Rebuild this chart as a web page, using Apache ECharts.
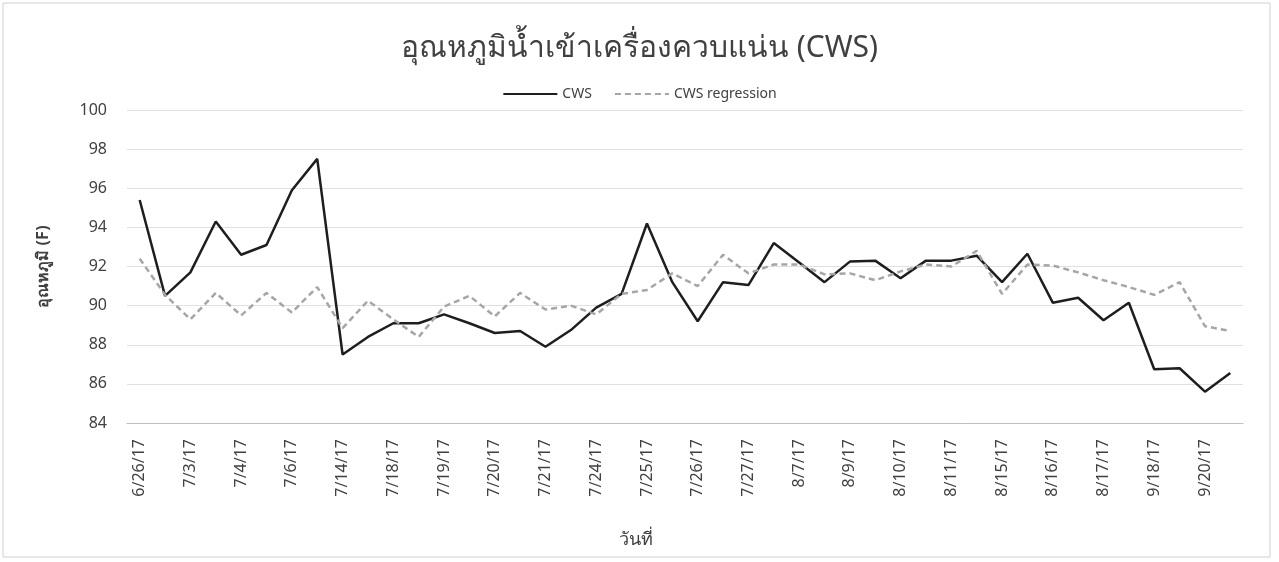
<!DOCTYPE html>
<html>
<head>
<meta charset="utf-8">
<title>CWS</title>
<script src="https://cdn.jsdelivr.net/npm/echarts@6/dist/echarts.min.js"></script>
<style>
  html, body { margin: 0; padding: 0; background: #fff; }
  #chart { width: 1279px; height: 562px; }
</style>
</head>
<body>
<div id="chart"></div>
<script>
// date labels shown under every other point
var dateLabels = ['6/26/17', '7/3/17', '7/4/17', '7/6/17', '7/14/17', '7/18/17', '7/19/17', '7/20/17',
  '7/21/17', '7/24/17', '7/25/17', '7/26/17', '7/27/17', '8/7/17', '8/9/17', '8/10/17', '8/11/17',
  '8/15/17', '8/16/17', '8/17/17', '9/18/17', '9/20/17'];

var cws = [95.4, 90.5, 91.7, 94.3, 92.6, 93.1, 95.9, 97.5, 87.5, 88.4, 89.1, 89.1,
  89.55, 89.1, 88.6, 88.7, 87.9, 88.75, 89.9, 90.6, 94.2, 91.2, 89.2, 91.2,
  91.05, 93.2, 92.2, 91.2, 92.25, 92.3, 91.4, 92.3, 92.3, 92.55, 91.2, 92.65,
  90.15, 90.4, 89.25, 90.15, 86.75, 86.8, 85.6, 86.55];

var cwsRegression = [92.4, 90.55, 89.3, 90.65, 89.5, 90.65, 89.65, 90.95, 88.85, 90.25, 89.3, 88.4,
  89.95, 90.5, 89.45, 90.65, 89.8, 90.0, 89.55, 90.6, 90.8, 91.65, 91.0, 92.6,
  91.65, 92.1, 92.1, 91.6, 91.65, 91.3, 91.75, 92.1, 92.0, 92.8, 90.6, 92.1,
  92.05, 91.7, 91.3, 90.95, 90.55, 91.2, 88.95, 88.7];

var yTicks = [84, 86, 88, 90, 92, 94, 96, 98, 100];

// one category per reading, only every other one is labelled
var categories = [];
for (var i = 0; i < cws.length; i++) {
  categories.push(i % 2 === 0 ? dateLabels[i / 2] : '');
}

var font = "'Noto Sans', 'DejaVu Sans', sans-serif";
var chart = echarts.init(document.getElementById('chart'));

chart.setOption({
  backgroundColor: '#fff',
  textStyle: { fontFamily: font },
  graphic: [{
    type: 'rect',
    shape: { x: 3, y: 3, width: 1267, height: 554 },
    style: { fill: 'none', stroke: '#d0d0d0', lineWidth: 1 },
    silent: true
  }],
  title: {
    text: 'อุณหภูมิน้ำเข้าเครื่องควบแน่น (CWS)',
    left: 'center',
    top: 28,
    textStyle: { fontSize: 30, fontWeight: 'normal', color: '#404040', fontFamily: font }
  },
  legend: {
    top: 82,
    left: 'center',
    itemWidth: 54,
    itemHeight: 12,
    itemGap: 22,
    itemStyle: { opacity: 0 },
    textStyle: { fontSize: 14, color: '#404040' },
    data: ['CWS', 'CWS regression']
  },
  grid: { left: 127, right: 36, top: 110, bottom: 139 },
  xAxis: {
    type: 'category',
    data: categories,
    boundaryGap: true,
    name: 'วันที่',
    nameLocation: 'middle',
    nameGap: 108,
    nameTextStyle: { fontSize: 18, color: '#404040', padding: [0, 98, 0, 0] },
    axisLine: { lineStyle: { color: '#bfbfbf' } },
    axisTick: { show: false },
    axisLabel: { interval: 1, rotate: 90, fontSize: 16, color: '#404040', margin: 16 },
    splitLine: { show: false }
  },
  yAxis: {
    type: 'value',
    min: yTicks[0],
    max: yTicks[yTicks.length - 1],
    interval: 2,
    name: 'อุณหภูมิ (F)',
    nameLocation: 'middle',
    nameRotate: 90,
    nameGap: 76,
    nameTextStyle: { fontSize: 16, fontWeight: 'bold', color: '#404040' },
    axisLine: { show: false },
    axisTick: { show: false },
    axisLabel: { fontSize: 16, color: '#404040', margin: 20 },
    splitLine: { lineStyle: { color: '#e0e0e0' } }
  },
  series: [
    {
      name: 'CWS',
      type: 'line',
      data: cws,
      symbol: 'none',
      lineStyle: { color: '#1e1e1e', width: 2.5 },
      itemStyle: { color: '#1e1e1e' }
    },
    {
      name: 'CWS regression',
      type: 'line',
      data: cwsRegression,
      symbol: 'none',
      lineStyle: { color: '#a6a6a6', width: 2.5, type: [6, 4] },
      itemStyle: { color: '#a6a6a6' }
    }
  ]
});
</script>
</body>
</html>
